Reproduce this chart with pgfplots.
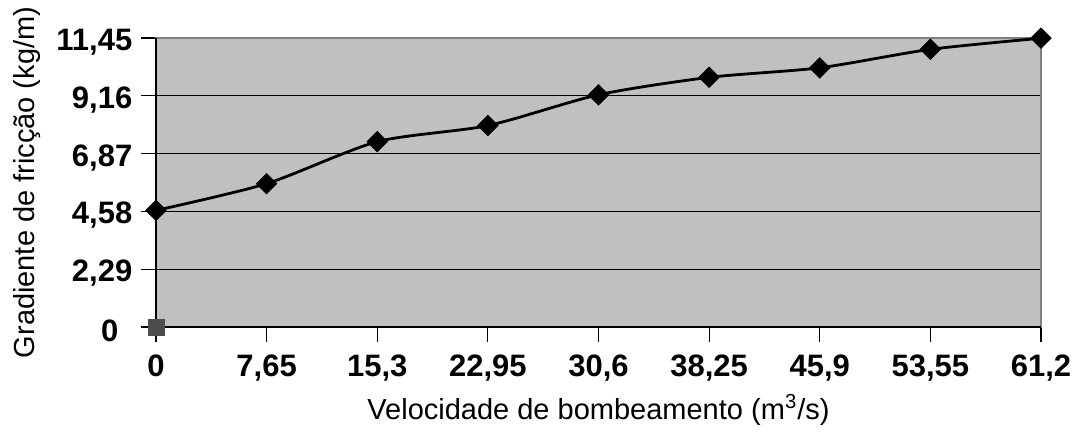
\documentclass[border=0pt]{standalone}
\usepackage{pgfplots}
\pgfplotsset{compat=1.18}
\usepackage{fontspec}
\setmainfont{Liberation Sans}
\definecolor{plotbg}{HTML}{C0C0C0}
\definecolor{framegray}{HTML}{808080}
\definecolor{sqgray}{HTML}{4D4D4D}
\begin{document}
\begin{tikzpicture}
\begin{axis}[
  scale only axis,
  width=442.5pt, height=144.5pt,
  xmin=0, xmax=61.2, ymin=0, ymax=11.45,
  axis background/.style={fill=plotbg},
  axis line style={framegray, line width=1pt},
  clip=false,
  xtick={0,7.65,15.3,22.95,30.6,38.25,45.9,53.55,61.2},
  xticklabels={0,{7,65},{15,3},{22,95},{30,6},{38,25},{45,9},{53,55},{61,2}},
  ytick={0,2.29,4.58,6.87,9.16,11.45},
  yticklabels={0\hspace*{7pt},{2,29},{4,58},{6,87},{9,16},{11,45}},
  tick align=outside,
  major tick length=7.5pt,
  tick style={black, line width=0.6pt},
  xtick pos=bottom, ytick pos=left,
  ymajorgrids,
  grid style={black, line width=0.6pt},
  ticklabel style={font=\fontsize{15.5}{18}\selectfont\bfseries},
  yticklabel style={anchor=east, xshift=-0.8pt, yshift=-2pt},
  xticklabel style={anchor=north, yshift=-2.7pt},
  xlabel={Velocidade de bombeamento (m\textsuperscript{3}/s)},
  ylabel={Gradiente de fricção (kg/m)},
  label style={font=\fontsize{14.5}{17}\selectfont},
  xlabel style={at={(axis description cs:0.5,-0.287)}, anchor=center},
  ylabel style={at={(axis description cs:-0.1452,0.5)}, anchor=center, rotate=0},
]
\addplot[black, line width=1.4pt, smooth, tension=0.45, mark=square*, mark size=3.6pt,
  mark options={rotate=45, fill=black, line width=0.4pt}] coordinates {
  (0,4.62) (7.65,5.68) (15.3,7.34) (22.95,7.98) (30.6,9.2)
  (38.25,9.89) (45.9,10.27) (53.55,11.0) (61.2,11.44)
};
\addplot[only marks, mark=square*, mark size=4pt, mark options={fill=sqgray, draw=sqgray}] coordinates {(0,0)};
\draw[black, line width=1pt] (axis cs:0,11.45) -- (axis cs:0,0) -- (axis cs:61.2,0);
\end{axis}
\pgfresetboundingbox
\useasboundingbox (-78pt,-52.5pt) rectangle (461pt,163.5pt);
\end{tikzpicture}
\end{document}
